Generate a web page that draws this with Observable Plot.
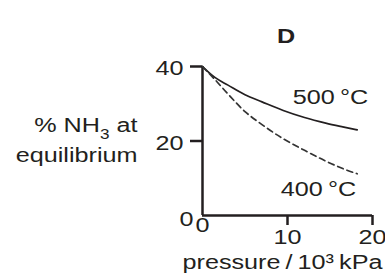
<!DOCTYPE html>
<html><head><meta charset="utf-8">
<script src="https://cdn.jsdelivr.net/npm/d3@7"></script>
<script src="https://cdn.jsdelivr.net/npm/@observablehq/plot@0.6"></script>
<style>body{margin:0;background:#fff} svg{display:block}</style>
</head><body><div id="chart"></div>
<script>
const pressure = [0, 1.5, 3, 5, 7, 9.5, 12, 14.5, 16.5, 18.2];
const nh3At500 = [40, 37.0, 35.0, 32.4, 30.5, 28.2, 26.3, 24.8, 23.8, 23.0];
const nh3At400 = [40, 36.4, 32.6, 27.9, 24.4, 20.6, 17.5, 14.6, 12.6, 11.2];
const seriesLabels = ["500\u2009°C", "400\u2009°C"];
const yTicks = [20, 40];
const xTicks = [10, 20];
const title = "D";
const yLabel = ["% NH3 at", "equilibrium"];
const xLabel = "pressure\u2009/\u200910³\u2009kPa";

const ink = "#231f20";
const font = "Liberation Sans, Arial, Helvetica, sans-serif";
const fs = 21;
const rows500 = pressure.map((p, i) => ({p, v: nh3At500[i]}));
const rows400 = pressure.map((p, i) => ({p, v: nh3At400[i]}));
const last500 = rows500[rows500.length - 1];
const last400 = rows400[rows400.length - 1];
const T = {fontSize: fs, fill: ink};

const chart = Plot.plot({
  width: 385, height: 278,
  marginLeft: 202, marginRight: 13, marginTop: 66, marginBottom: 63,
  style: {fontFamily: font, fontSize: fs + "px", color: ink, background: "#fff"},
  x: {domain: [0, 20]},
  y: {domain: [0, 40]},
  marks: [
    Plot.axisY({ticks: yTicks, tickSize: 12, tickFormat: () => "", strokeWidth: 2.5, stroke: ink, label: null}),
    Plot.axisX({ticks: xTicks, tickSize: 10, tickFormat: () => "", strokeWidth: 2.5, stroke: ink, label: null}),
    Plot.ruleX([0], {y1: 0, y2: 40, stroke: ink, strokeWidth: 2.5}),
    Plot.ruleY([0], {x1: 0, x2: 20, stroke: ink, strokeWidth: 2.5}),
    Plot.line(rows500, {x: "p", y: "v", stroke: ink, strokeWidth: 1.7, curve: "monotone-x"}),
    Plot.line(rows400, {x: "p", y: "v", stroke: "#333", strokeWidth: 1.7, strokeDasharray: "6,4", curve: "monotone-x"}),
    Plot.text(yTicks, {y: d => d, text: d => String(d), frameAnchor: "left", textAnchor: "end", dx: -19, dy: 2, ...T}),
    Plot.text([0], {y: d => d, text: d => String(d), frameAnchor: "left", textAnchor: "end", dx: -9, dy: 3.3, ...T}),
    Plot.text(xTicks, {x: d => d, text: d => String(d), frameAnchor: "bottom", dy: 28.3, ...T}),
    Plot.text([0], {x: d => d, text: d => String(d), frameAnchor: "bottom", dy: 16.3, ...T}),
    Plot.text([last500], {x: "p", y: "v", text: () => seriesLabels[0], textAnchor: "end", dx: 11, dy: -32.4, ...T}),
    Plot.text([last400], {x: "p", y: "v", text: () => seriesLabels[1], textAnchor: "end", dx: -1, dy: 15.5, ...T}),
    Plot.text([title], {frameAnchor: "top", dx: -1.5, dy: -38.7, fontWeight: "bold", ...T}),
    Plot.text([yLabel[0]], {frameAnchor: "left", textAnchor: "end", dx: -65, dy: -15.5, ...T}),
    Plot.text([yLabel[1]], {frameAnchor: "left", textAnchor: "end", dx: -65, dy: 14.5, ...T}),
    Plot.text([xLabel], {frameAnchor: "bottom-left", textAnchor: "start", dx: -20, dy: 53.3, ...T})
  ]
});
document.getElementById("chart").appendChild(chart);

// widen glyphs like the reference and set the subscript
chart.querySelectorAll("text").forEach(t => {
  const tr = t.getAttribute("transform");
  if (tr && t.textContent !== "") t.setAttribute("transform", tr + " scale(1.2,1)");
  if (t.textContent === yLabel[0]) {
    const m = yLabel[0].match(/^(.*NH)(3)(.*)$/);
    t.textContent = "";
    const a = document.createElementNS("http://www.w3.org/2000/svg", "tspan");
    a.textContent = m[1];
    const b = document.createElementNS("http://www.w3.org/2000/svg", "tspan");
    b.textContent = m[2]; b.setAttribute("font-size", "0.68em"); b.setAttribute("dy", "0.45em");
    const c = document.createElementNS("http://www.w3.org/2000/svg", "tspan");
    c.textContent = m[3]; c.setAttribute("dy", "-0.3em");
    t.append(a, b, c);
  }
});
</script>
</body></html>
